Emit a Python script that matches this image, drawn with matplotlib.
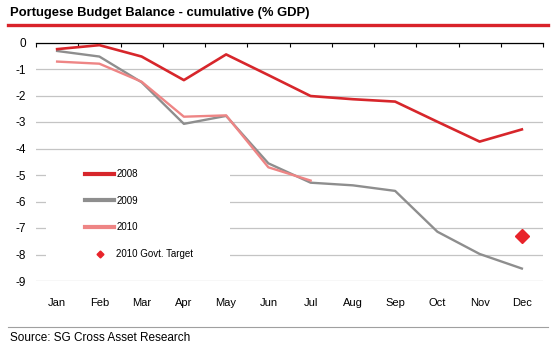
import matplotlib.pyplot as plt
from matplotlib.lines import Line2D
from matplotlib.patches import Rectangle

plt.rcParams['font.family'] = ['Liberation Sans', 'DejaVu Sans']

# data
months = ['Jan', 'Feb', 'Mar', 'Apr', 'May', 'Jun', 'Jul', 'Aug', 'Sep', 'Oct', 'Nov', 'Dec']
bal_2008 = [-0.25, -0.10, -0.53, -1.42, -0.45, -1.23, -2.02, -2.14, -2.23, -2.99, -3.74, -3.28]
bal_2009 = [-0.32, -0.53, -1.50, -3.07, -2.77, -4.56, -5.29, -5.39, -5.60, -7.14, -7.98, -8.53]
bal_2010 = [-0.72, -0.80, -1.48, -2.80, -2.75, -4.71, -5.21]
target_month = 'Dec'
target_2010 = -7.3

W, H = 554, 346
fig = plt.figure(figsize=(W / 100, H / 100), dpi=100)
ax = fig.add_axes([36 / W, 1 - 281 / H, (543 - 36) / W, (281 - 42.5) / H])

x = list(range(len(months)))
l08, = ax.plot(x, bal_2008, color='#D7262B', lw=1.9, zorder=3)
l09, = ax.plot(x, bal_2009, color='#8E8E8E', lw=1.7, zorder=2.5)
l10, = ax.plot(x[:len(bal_2010)], bal_2010, color='#EE8585', lw=1.7, zorder=2.7)
ax.plot([months.index(target_month)], [target_2010], marker='D', ms=7.5,
        color='#E8232A', ls='none', zorder=4)

ax.set_xlim(-0.5, len(months) - 0.5)
ax.set_ylim(-9, 0)
ax.set_yticks(range(-9, 1))
ax.set_yticklabels([str(v) for v in range(-9, 1)])
ax.set_xticks(x)
ax.set_xticklabels(months)
ax.set_xticks([v - 0.5 for v in range(len(months) + 1)], minor=True)

ax.tick_params(axis='y', length=0, pad=7, labelsize=8.5)
ax.tick_params(axis='x', which='major', length=0, pad=12, labelsize=8)
ax.tick_params(axis='x', which='minor', top=True, bottom=False, direction='in',
               length=3, width=0.8, color='black')

ax.grid(axis='y', color='#C4C4C4', lw=0.9, zorder=0.5)
ax.set_axisbelow(True)
for s in ['left', 'right', 'bottom']:
    ax.spines[s].set_visible(False)
ax.spines['top'].set_color('black')
ax.spines['top'].set_linewidth(0.9)

# white block behind the legend hides the gridlines
ax.add_patch(Rectangle((46 / W, 1 - 268 / H), (230 - 46) / W, (268 - 158) / H,
                       transform=fig.transFigure, facecolor='white',
                       edgecolor='none', zorder=1, clip_on=False))

tgt = Line2D([], [], marker='D', ms=3.5, color='#E8232A', ls='none')
leg = ax.legend([l08, l09, l10, tgt], ['2008', '2009', '2010', '2010 Govt. Target'],
                loc='upper left', bbox_to_anchor=(85 / W, 1 - 169 / H),
                bbox_transform=fig.transFigure, frameon=False, fontsize=7,
                handlelength=3.0, handletextpad=0.2, labelspacing=1.72,
                borderpad=0, borderaxespad=0)
leg.set_zorder(5)
for h in leg.legend_handles[:3]:
    h.set_linewidth(3)

fig.text(10 / W, 1 - 13 / H, 'Portugese Budget Balance - cumulative (% GDP)',
         fontsize=9.4, fontweight='bold', va='center', ha='left')
fig.add_artist(Line2D([8 / W, 548 / W], [1 - 25 / H, 1 - 25 / H], color='#D9232A', lw=2.4))
fig.add_artist(Line2D([8 / W, 548 / W], [1 - 326.5 / H, 1 - 326.5 / H], color='#A0A0A0', lw=0.8))
fig.text(10 / W, 1 - 338 / H, 'Source: SG Cross Asset Research', fontsize=8.5,
         va='center', ha='left')

fig.savefig('out.png', dpi=100)
